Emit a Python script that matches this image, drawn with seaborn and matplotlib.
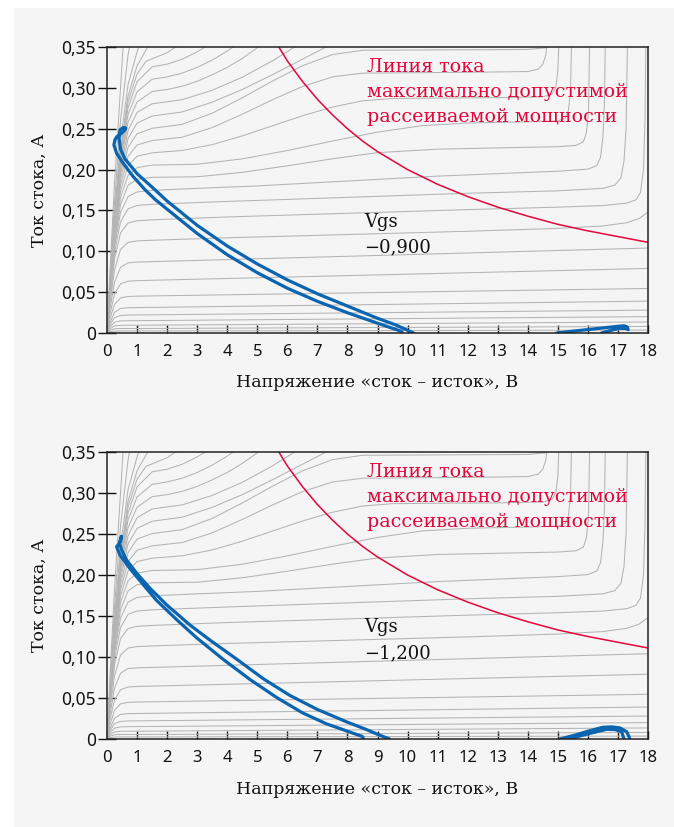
import matplotlib
matplotlib.use("Agg")
import matplotlib.pyplot as plt
import seaborn as sns
import pandas as pd
from matplotlib.patches import Rectangle

# ---------------- data ----------------
# gray output characteristics (drain current, A vs drain-source voltage, V)
low_v = [0, 0.1, 0.25, 0.45, 0.7, 1.0, 18]
low_i = [
    [0, 0.0017, 0.0024, 0.0025, 0.0025, 0.0025, 0.0035],
    [0, 0.0034, 0.0052, 0.0055, 0.0055, 0.0055, 0.0080],
    [0, 0.0053, 0.0087, 0.0094, 0.0095, 0.0095, 0.0135],
    [0, 0.0076, 0.0132, 0.0148, 0.0150, 0.0151, 0.0200],
    [0, 0.0102, 0.0187, 0.0215, 0.0220, 0.0221, 0.0280],
    [0, 0.0130, 0.0252, 0.0300, 0.0309, 0.0311, 0.0390],
    [0, 0.0177, 0.0350, 0.0429, 0.0447, 0.0451, 0.0545],
    [0, 0.0235, 0.0477, 0.0601, 0.0634, 0.0641, 0.0790],
    [0, 0.0298, 0.0619, 0.0803, 0.0859, 0.0868, 0.1040],
]
knee_v = [0, 0.1, 0.25, 0.45, 0.7, 1.0]
mid_v = [
    knee_v + [1.5, 4, 8, 12, 15, 16.5, 17.3, 17.7, 18],
    knee_v + [1.5, 4, 8, 12, 15, 16.5, 17.3, 17.6, 17.75, 17.85, 17.9, 17.93],
    knee_v + [1.5, 4, 8, 12, 15, 16.5, 16.9, 17.1, 17.2, 17.27, 17.32],
    knee_v + [1.5, 3, 5, 7, 9, 11, 13, 15, 16, 16.3, 16.42, 16.5, 16.55, 16.58],
    knee_v + [1.5, 3, 4.5, 6, 7.5, 9, 11, 13, 15, 15.6, 15.85, 15.95, 16.02, 16.06],
    knee_v + [1.5, 3, 4.5, 6, 7.5, 9, 10.5, 12, 14, 15, 15.25, 15.35, 15.42, 15.46],
    knee_v + [1.5, 2.5, 3.5, 4.5, 5.5, 6.5, 7.5, 8.5, 9.5, 11, 13, 14.5, 14.8, 14.93, 15.0, 15.04],
    knee_v + [1.5, 2.5, 3.5, 4.5, 5.5, 6.5, 7.5, 8.5, 10, 12, 14, 14.35, 14.5, 14.6, 14.65],
    knee_v + [1.5, 2.5, 3.5, 4.5, 5.5, 6.5, 7.5, 8.5, 10, 12, 14, 14.6, 14.9],
]
mid_i = [
    [0, 0.0362, 0.0768, 0.1023, 0.1109, 0.1127, 0.1135, 0.1165, 0.1205, 0.1245, 0.128, 0.131, 0.135, 0.140, 0.148],
    [0, 0.0418, 0.0901, 0.1224, 0.1346, 0.1374, 0.1385, 0.142, 0.1465, 0.151, 0.154, 0.156, 0.159, 0.163, 0.172, 0.20, 0.26, 0.36],
    [0, 0.0449, 0.0983, 0.1361, 0.152, 0.1561, 0.1575, 0.161, 0.166, 0.171, 0.174, 0.177, 0.181, 0.19, 0.21, 0.25, 0.36],
    [0, 0.047, 0.1044, 0.1476, 0.1669, 0.1726, 0.1745, 0.177, 0.180, 0.184, 0.188, 0.192, 0.195, 0.198, 0.2005, 0.205, 0.215, 0.24, 0.28, 0.36],
    [0, 0.0488, 0.1096, 0.1573, 0.1807, 0.1881, 0.1905, 0.1912, 0.1966, 0.2046, 0.2132, 0.2207, 0.225, 0.2265, 0.228, 0.2295, 0.234, 0.245, 0.27, 0.36],
    [0, 0.0502, 0.1138, 0.1661, 0.1929, 0.2023, 0.2055, 0.2065, 0.2131, 0.2233, 0.2349, 0.2458, 0.2538, 0.257, 0.2585, 0.2595, 0.263, 0.272, 0.295, 0.36],
    [0, 0.0517, 0.1181, 0.1738, 0.205, 0.2163, 0.2205, 0.2234, 0.2305, 0.2412, 0.2535, 0.2658, 0.2765, 0.2841, 0.287, 0.2875, 0.288, 0.289, 0.292, 0.30, 0.32, 0.36],
    [0, 0.0524, 0.1208, 0.181, 0.2162, 0.2301, 0.2355, 0.2396, 0.2514, 0.2677, 0.2853, 0.3016, 0.3134, 0.318, 0.3185, 0.319, 0.320, 0.323, 0.329, 0.34, 0.36],
    [0, 0.0535, 0.1238, 0.188, 0.2273, 0.2438, 0.2505, 0.2553, 0.269, 0.2878, 0.3082, 0.327, 0.3407, 0.346, 0.3463, 0.3466, 0.347, 0.349, 0.355],
]
high_v = [
    knee_v + [1.5, 2.5, 3.5, 4.5, 5.5, 6.5, 7.5, 8.0],
    knee_v + [1.5, 2.5, 3.5, 4.5, 5.5, 6.2, 6.5],
    knee_v + [1.5, 2.0, 2.5, 3.0, 3.5, 4.0, 4.5, 5.0, 5.3],
    knee_v + [1.5, 2.0, 2.5, 3.0, 3.5, 4.0, 4.4],
    knee_v + [1.5, 2.0, 2.5, 3.0, 3.4],
    knee_v + [1.3, 1.7, 2.0, 2.4],
    knee_v + [1.2, 1.4],
    knee_v + [1.15],
    [0, 0.1, 0.25, 0.45, 0.7, 0.8],
    [0, 0.1, 0.25, 0.45, 0.55],
]
high_i = [
    [0, 0.0543, 0.1267, 0.1945, 0.238, 0.2568, 0.2655, 0.2705, 0.2825, 0.298, 0.316, 0.335, 0.354, 0.362],
    [0, 0.0552, 0.1294, 0.2005, 0.2478, 0.2699, 0.2805, 0.2855, 0.297, 0.313, 0.333, 0.349, 0.356],
    [0, 0.0561, 0.1319, 0.2065, 0.2578, 0.2826, 0.2955, 0.298, 0.302, 0.308, 0.316, 0.325, 0.336, 0.349, 0.357],
    [0, 0.0567, 0.1342, 0.2114, 0.2672, 0.2951, 0.3105, 0.3135, 0.318, 0.325, 0.334, 0.345, 0.355],
    [0, 0.0575, 0.1362, 0.2158, 0.2756, 0.3075, 0.3258, 0.329, 0.335, 0.344, 0.353],
    [0, 0.0575, 0.1372, 0.2197, 0.2829, 0.317, 0.3325, 0.3385, 0.343, 0.353],
    [0, 0.0581, 0.1387, 0.2235, 0.29, 0.327, 0.340, 0.353],
    [0, 0.061, 0.146, 0.235, 0.304, 0.344, 0.36],
    [0, 0.0672, 0.160, 0.260, 0.340, 0.36],
    [0, 0.0765, 0.1835, 0.30, 0.36],
]

# red maximum power dissipation line
red_v = [5.7, 6, 6.5, 7, 7.5, 8, 8.5, 9, 10, 11, 12, 13, 14, 15, 16, 17, 18]
red_i = [0.351, 0.333, 0.308, 0.286, 0.267, 0.250, 0.235, 0.222, 0.200, 0.182,
         0.167, 0.154, 0.143, 0.133, 0.125, 0.118, 0.111]

# blue load trajectories (one closed loop per panel)
top_loop_v = [0.62, 0.57, 0.45, 0.32, 0.26, 0.23, 0.32, 0.54, 0.87, 1.26, 1.6, 2.0, 3.0,
              4.0, 5.0, 6.0, 7.0, 8.0, 9.0, 9.8, 10.1, 14.6, 14.96, 15.5, 16.0,
              16.5, 17.0, 17.2, 17.31, 17.34, 17.28, 17.05, 16.75, 16.45, 16.2, 10.6, 10.2,
              9.6, 9.0, 8.0, 7.0, 6.0, 5.0, 4.0, 3.0, 2.0, 1.5, 1.0, 0.6,
              0.45, 0.40, 0.43, 0.54, 0.62]
top_loop_i = [0.2506, 0.2473, 0.2435, 0.240, 0.236, 0.230, 0.220, 0.2077, 0.1915, 0.1755,
              0.1635, 0.1515, 0.1218, 0.0958, 0.0738, 0.0548, 0.0388, 0.0248, 0.012,
              0.002, -0.02, -0.02, 0.0, 0.0022, 0.0042, 0.0062, 0.0082, 0.0088, 0.0074,
              0.004, 0.0055, 0.0058, 0.003, 0.0, -0.02, -0.02, 0.0,
              0.010, 0.018, 0.033, 0.048, 0.065, 0.0845, 0.1065, 0.1318, 0.1615, 0.1785,
              0.195, 0.213, 0.225, 0.238, 0.2485, 0.2514, 0.2506]
bot_loop_v = [0.48, 0.47, 0.40, 0.32, 0.43, 0.77, 1.21, 1.65, 2.32, 2.98, 3.87, 4.76, 5.65,
              6.5, 7.3, 8.0, 8.5, 8.8, 14.7, 15.07, 15.6, 16.0, 16.5, 16.8, 17.07, 17.29,
              17.38, 17.4, 17.2, 17.2, 17.12, 16.9, 16.62, 15.85, 15.4, 15.2, 9.7, 9.4, 9.05,
              8.6, 8.0, 7.0, 6.09, 5.2, 4.31, 3.43, 2.76, 1.99, 1.43, 0.99, 0.65, 0.49, 0.42,
              0.45, 0.48]
bot_loop_i = [0.247, 0.243, 0.238, 0.2345, 0.2244, 0.2075, 0.188, 0.169, 0.1455, 0.1235,
              0.097, 0.0725, 0.0505, 0.032, 0.0185, 0.0095, 0.003, -0.02, -0.02, 0.0, 0.005,
              0.0095, 0.0143, 0.0148, 0.0135, 0.0089, 0.002, -0.02, -0.02, 0.0, 0.0089,
              0.0115, 0.0118, 0.0049, 0.0, -0.02, -0.02, 0.0, 0.005, 0.012, 0.0205, 0.036,
              0.053, 0.0735, 0.0975, 0.1205, 0.139, 0.1634, 0.1838, 0.2021, 0.2183, 0.2305,
              0.238, 0.2445, 0.247]

x_ticks = list(range(0, 19))
y_ticks = [0, 0.05, 0.10, 0.15, 0.20, 0.25, 0.30, 0.35]
y_ticklabels = ["0", "0,05", "0,10", "0,15", "0,20", "0,25", "0,30", "0,35"]
vgs_labels = ["Vgs\n\u22120,900", "Vgs\n\u22121,200"]
red_label = "Линия тока\nмаксимально допустимой\nрассеиваемой мощности"
x_label = "Напряжение «сток – исток», В"
y_label = "Ток стока, А"

# ---------------- build table ----------------
rows = []
cid = 0
for vi in low_i:
    for v, i in zip(low_v, vi):
        rows.append((cid, v, i))
    cid += 1
for vs, is_ in list(zip(mid_v, mid_i)) + list(zip(high_v, high_i)):
    for v, i in zip(vs, is_):
        rows.append((cid, v, i))
    cid += 1
gray_df = pd.DataFrame(rows, columns=["curve", "V", "I"])

# ---------------- style ----------------
sns.set_style("ticks")
plt.rcParams["font.family"] = ["Noto Sans", "DejaVu Sans"]
BG = "#f5f5f5"
RED = "#e3063a"
BLUE = "#0a64b0"
GRAY = "#b4b4b4"
SERIF = ["DejaVu Serif"]

fig = plt.figure(figsize=(6.74, 8.27), dpi=100)
fig.patch.set_facecolor("white")
fig.add_artist(Rectangle((14 / 674, 0), 1, (827 - 8) / 827, transform=fig.transFigure,
                         facecolor=BG, edgecolor="none", zorder=-10))

W, H = 674, 827
panels = [
    (47, 333, top_loop_v, top_loop_i, vgs_labels[0]),
    (452, 739, bot_loop_v, bot_loop_i, vgs_labels[1]),
]
for top_px, bot_px, lv, li, vlab in panels:
    ax = fig.add_axes([107 / W, 1 - bot_px / H, 541 / W, (bot_px - top_px) / H])
    ax.set_facecolor(BG)
    sns.lineplot(data=gray_df, x="V", y="I", units="curve", estimator=None, sort=False,
                 color=GRAY, lw=0.75, ax=ax, legend=False)
    sns.lineplot(x=red_v, y=red_i, estimator=None, sort=False, color=RED, lw=1.1, ax=ax)
    sns.lineplot(x=lv, y=li, estimator=None, sort=False, color=BLUE, lw=2.3, ax=ax)
    ax.set_xlim(0, 18)
    ax.set_ylim(0, 0.35)
    ax.set_xticks(x_ticks)
    ax.set_xticklabels([str(t) for t in x_ticks])
    ax.set_yticks(y_ticks)
    ax.set_yticklabels(y_ticklabels)
    ax.tick_params(axis="x", direction="in", length=6, width=1, pad=8, labelsize=12,
                   colors="#111")
    ax.tick_params(axis="y", direction="inout", length=13, width=1, pad=1.5, labelsize=12.5,
                   colors="#111")
    for s in ax.spines.values():
        s.set_visible(True)
        s.set_color("#222")
        s.set_linewidth(1.1)
    ax.set_xlabel(x_label, family=SERIF, fontsize=12.5, color="#111")
    ax.set_ylabel(y_label, family=SERIF, fontsize=12.5, color="#111")
    ax.xaxis.set_label_coords(0.5, -0.145)
    ax.yaxis.set_label_coords(-0.109, 0.5)
    ax.text(8.65, 0.336, red_label, color=RED, family=SERIF, fontsize=13.7, va="top",
            ha="left", linespacing=1.5)
    ax.text(8.55, 0.147, vlab, color="#111", family=SERIF, fontsize=13, va="top",
            ha="left", linespacing=1.55)

fig.savefig("out.png", dpi=100, facecolor="white")
